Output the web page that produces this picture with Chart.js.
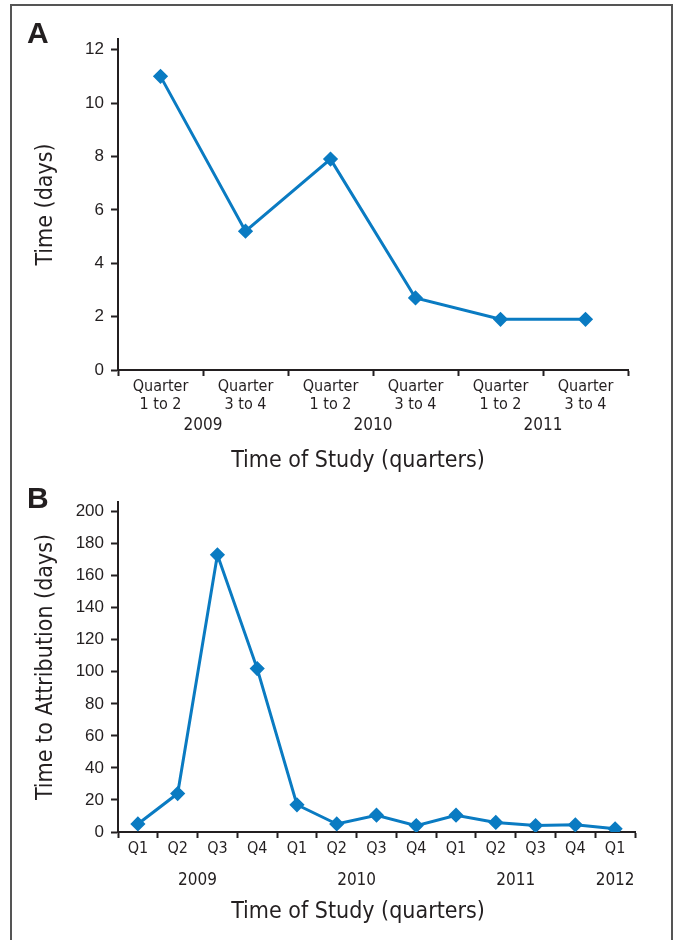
<!DOCTYPE html>
<html>
<head>
<meta charset="utf-8">
<script src="https://cdn.jsdelivr.net/npm/chart.js@4.4.1/dist/chart.umd.min.js"></script>
<style>
  html, body { margin: 0; padding: 0; background: #fff; }
  #wrap { position: relative; width: 675px; height: 940px; overflow: hidden; }
  #frame { position: absolute; left: 10px; top: 4px; width: 663px; height: 960px; border: 2px solid #555; box-sizing: border-box; }
  .panel { position: absolute; left: 27px; font: bold 30px 'Liberation Sans', Arial, sans-serif; line-height: 30px; color: #231f20; }
  canvas { position: absolute; left: 0; }
</style>
</head>
<body>
<div id="wrap">
  <div id="frame"></div>
  <canvas id="chart-a" width="675" height="480" style="top:0;width:675px;height:480px"></canvas>
  <canvas id="chart-b" width="675" height="460" style="top:480px;width:675px;height:460px"></canvas>
  <div class="panel" style="top:18px">A</div>
  <div class="panel" style="top:483px">B</div>
</div>
<script>
/* ── Data ── */
// Panel A: half-year periods
const A_LABELS = [['Quarter', '1 to 2'], ['Quarter', '3 to 4'], ['Quarter', '1 to 2'], ['Quarter', '3 to 4'], ['Quarter', '1 to 2'], ['Quarter', '3 to 4']];
const A_YEARS  = ['2009', '2009', '2010', '2010', '2011', '2011'];
const A_DAYS   = [11, 5.2, 7.9, 2.7, 1.9, 1.9];
const A_YTICKS = [0, 2, 4, 6, 8, 10, 12];

// Panel B: quarters
const B_LABELS = ['Q1', 'Q2', 'Q3', 'Q4', 'Q1', 'Q2', 'Q3', 'Q4', 'Q1', 'Q2', 'Q3', 'Q4', 'Q1'];
const B_YEARS  = ['2009', '2009', '2009', '2009', '2010', '2010', '2010', '2010', '2011', '2011', '2011', '2011', '2012'];
const B_DAYS   = [5, 24, 173, 102, 17, 5, 10.5, 4, 10.5, 6, 4, 4.5, 2];
const B_YTICKS = [0, 20, 40, 60, 80, 100, 120, 140, 160, 180, 200];

const INK  = '#231f20';
const BLUE = '#0a7bc2';
const COND = '"DejaVu Sans Condensed", "Liberation Sans Narrow", sans-serif';
const TITLE_X = 358;

// year row + x title drawn under the tick labels
const bottomText = {
  id: 'bottomText',
  afterDraw(chart, args, opts) {
    const { ctx } = chart;
    const xs = chart.scales.x;
    const groups = [];
    opts.years.forEach((y, i) => {
      const g = groups[groups.length - 1];
      if (g && g.year === y) g.to = i; else groups.push({ year: y, from: i, to: i });
    });
    ctx.save();
    ctx.fillStyle = INK;
    ctx.textAlign = 'center';
    ctx.textBaseline = 'middle';
    ctx.font = `17px ${COND}`;
    groups.forEach(g => ctx.fillText(g.year, xs.getPixelForValue((g.from + g.to) / 2), opts.yearY));
    ctx.font = `23px ${COND}`;
    ctx.fillText(opts.title, TITLE_X, opts.titleY);
    ctx.restore();
  }
};

function makeChart(id, cfg) {
  return new Chart(document.getElementById(id), {
    type: 'line',
    data: {
      labels: cfg.labels,
      datasets: [{
        data: cfg.values,
        borderColor: BLUE, backgroundColor: BLUE, borderWidth: 3,
        pointStyle: 'rectRot', pointRadius: 5.5, pointHoverRadius: 5.5, tension: 0
      }]
    },
    options: {
      responsive: false, animation: false,
      layout: { padding: cfg.padding },
      plugins: {
        legend: { display: false }, tooltip: { enabled: false },
        bottomText: { years: cfg.years, title: 'Time of Study (quarters)', yearY: cfg.yearY, titleY: cfg.titleY }
      },
      scales: {
        x: {
          offset: true,
          grid: { offset: true, drawOnChartArea: false, tickLength: 6, tickWidth: 2, tickColor: INK },
          border: { color: INK, width: 2 },
          ticks: { color: INK, font: { family: COND, size: 16, lineHeight: 1.1 }, padding: 2, maxRotation: 0, autoSkip: false },
          afterFit: s => { s.height = cfg.xHeight; }
        },
        y: {
          min: 0, max: cfg.yMax,
          afterBuildTicks: s => { s.ticks = cfg.yTicks.map(v => ({ value: v })); },
          grid: { drawOnChartArea: false, tickLength: 7, tickWidth: 2, tickColor: INK },
          border: { color: INK, width: 2 },
          ticks: { color: INK, font: { family: '"Liberation Sans", Arial, sans-serif', size: 17 }, padding: 7 },
          title: { display: true, text: cfg.yTitle, color: INK, font: { family: COND, size: 23 }, padding: { top: 32, bottom: 0 } },
          afterFit: s => { s.width = 118; }
        }
      }
    },
    plugins: [bottomText]
  });
}

makeChart('chart-a', {
  labels: A_LABELS, years: A_YEARS, values: A_DAYS, yTicks: A_YTICKS,
  yMax: 12.4, yTitle: 'Time (days)',
  padding: { top: 39, right: 47, left: 0, bottom: 0 },
  xHeight: 110, yearY: 426, titleY: 461
});

makeChart('chart-b', {
  labels: B_LABELS, years: B_YEARS, values: B_DAYS, yTicks: B_YTICKS,
  yMax: 206, yTitle: 'Time to Attribution (days)',
  padding: { top: 22, right: 40, left: 0, bottom: 0 },
  xHeight: 108, yearY: 401, titleY: 432
});
</script>
</body>
</html>
